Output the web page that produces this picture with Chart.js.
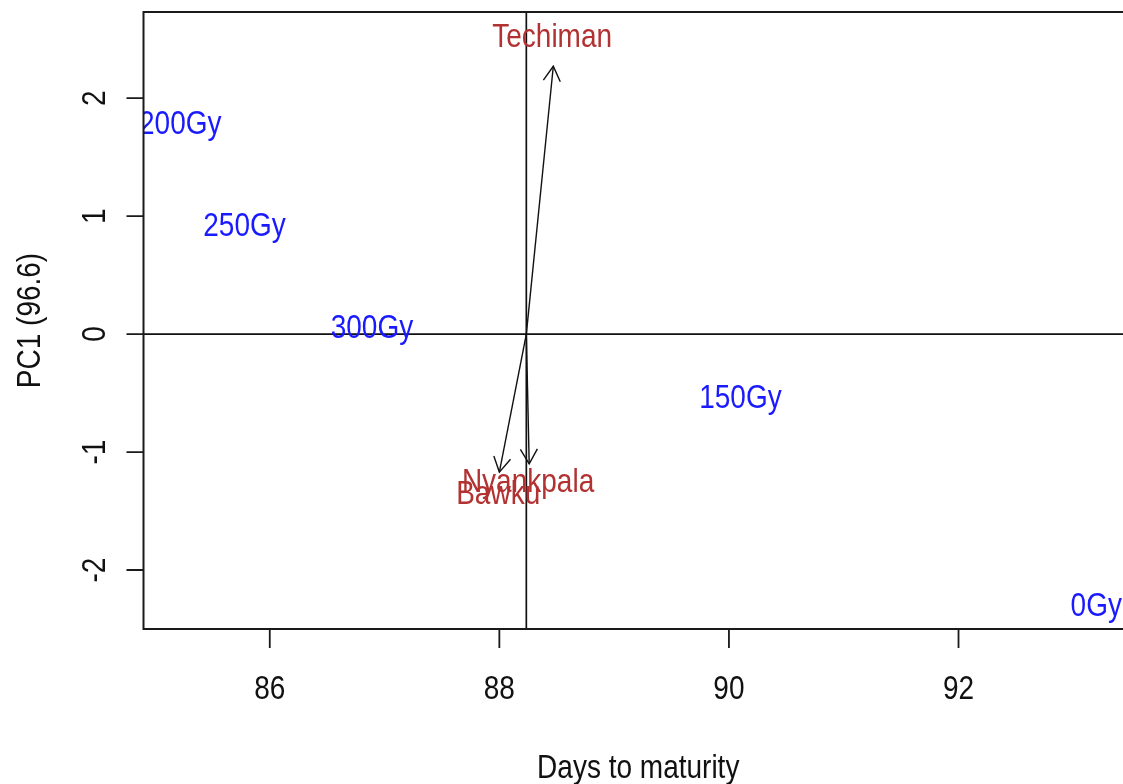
<!DOCTYPE html>
<html>
<head>
<meta charset="utf-8">
<script src="https://cdn.jsdelivr.net/npm/chart.js@4"></script>
<style>
  html, body { margin: 0; padding: 0; background: #fff; overflow: hidden; }
  #wrap { width: 1133px; height: 784px; }
</style>
</head>
<body>
<div id="wrap"><canvas id="biplot"></canvas></div>
<script>
"use strict";

// dosis (etiquetas azules)
const doseLabels = ["200Gy", "250Gy", "300Gy", "150Gy", "0Gy"];
const doseX = [85.22, 85.78, 86.89, 90.10, 93.20];
const doseY = [1.80, 0.93, 0.07, -0.53, -2.29];

// localidades (etiquetas rojas)
const siteLabels = ["Techiman", "Nyankpala", "Bawku"];
const siteX = [88.46, 88.25, 87.99];
const siteY = [2.53, -1.24, -1.34];

// puntas de las flechas
const arrowX = [88.47, 88.26, 88.00];
const arrowY = [2.27, -1.10, -1.17];
const originX = 88.235;
const originY = 0;

const xTicks = [86, 88, 90, 92];
const yTicks = [-2, -1, 0, 1, 2];

const FONT = 'px "Liberation Sans", Arial, sans-serif';
const SIZE = 28;
const STRETCH = 1.18;
const BLUE = "#1a1aff";
const RED = "#b23232";

function drawText(ctx, txt, x, y, color, rot) {
  ctx.save();
  ctx.translate(x, y);
  if (rot) ctx.rotate(rot);
  ctx.scale(1, STRETCH);
  ctx.fillStyle = color;
  ctx.font = SIZE + FONT;
  ctx.textAlign = "center";
  ctx.textBaseline = "alphabetic";
  ctx.fillText(txt, 0, SIZE * 0.358);
  ctx.restore();
}

function arrowHead(ctx, x0, y0, x1, y1) {
  const a = Math.atan2(y1 - y0, x1 - x0);
  const L = 17, w = Math.PI / 6;
  ctx.beginPath();
  ctx.moveTo(x1 - L * Math.cos(a - w), y1 - L * Math.sin(a - w));
  ctx.lineTo(x1, y1);
  ctx.lineTo(x1 - L * Math.cos(a + w), y1 - L * Math.sin(a + w));
  ctx.stroke();
}

// Ejes estilo R: caja, marcas, textos
const rAxes = {
  id: "rAxes",
  beforeDatasetsDraw(chart) {
    const { ctx, chartArea: ca, scales: { x, y } } = chart;
    ctx.save();
    ctx.strokeStyle = "#111";
    ctx.lineWidth = 1.7;
    ctx.beginPath();
    const py0 = y.getPixelForValue(originY);
    const px0 = x.getPixelForValue(originX);
    ctx.moveTo(ca.left, py0); ctx.lineTo(ca.right, py0);
    ctx.moveTo(px0, ca.top); ctx.lineTo(px0, ca.bottom);
    ctx.stroke();
    ctx.restore();
  },
  afterDatasetsDraw(chart) {
    const { ctx, chartArea: ca, scales: { x, y } } = chart;
    ctx.save();
    ctx.strokeStyle = "#111";
    ctx.lineWidth = 1.4;

    // puntas de flecha
    arrowX.forEach((v, i) => {
      arrowHead(ctx, x.getPixelForValue(originX), y.getPixelForValue(originY),
        x.getPixelForValue(v), y.getPixelForValue(arrowY[i]));
    });

    // etiquetas recortadas al área
    ctx.save();
    ctx.beginPath();
    ctx.rect(ca.left, ca.top, ca.right - ca.left, ca.bottom - ca.top);
    ctx.clip();
    doseLabels.forEach((t, i) => {
      drawText(ctx, t, x.getPixelForValue(doseX[i]), y.getPixelForValue(doseY[i]), BLUE);
    });
    siteLabels.forEach((t, i) => {
      drawText(ctx, t, x.getPixelForValue(siteX[i]), y.getPixelForValue(siteY[i]), RED);
    });
    ctx.restore();

    // caja
    ctx.lineWidth = 2;
    ctx.strokeStyle = "#1a1a1a";
    ctx.strokeRect(ca.left, ca.top, ca.right - ca.left, ca.bottom - ca.top);

    // marcas de los ejes
    ctx.lineWidth = 1.8;
    ctx.beginPath();
    xTicks.forEach(v => {
      const px = x.getPixelForValue(v);
      ctx.moveTo(px, ca.bottom); ctx.lineTo(px, ca.bottom + 19);
    });
    yTicks.forEach(v => {
      const py = y.getPixelForValue(v);
      ctx.moveTo(ca.left, py); ctx.lineTo(ca.left - 17, py);
    });
    ctx.stroke();

    xTicks.forEach(v => drawText(ctx, String(v), x.getPixelForValue(v), ca.bottom + 58, "#111"));
    yTicks.forEach(v => drawText(ctx, String(v), ca.left - 50, y.getPixelForValue(v), "#111", -Math.PI / 2));

    drawText(ctx, "Days to maturity", (ca.left + ca.right) / 2, 766, "#111");
    drawText(ctx, "PC1 (96.6)", 28, (ca.top + ca.bottom) / 2, "#111", -Math.PI / 2);
    ctx.restore();
  }
};

const arrowSets = arrowX.map((v, i) => ({
  data: [{ x: originX, y: originY }, { x: v, y: arrowY[i] }],
  showLine: true,
  borderColor: "#111",
  borderWidth: 1.4,
  pointRadius: 0,
  fill: false
}));

new Chart(document.getElementById("biplot"), {
  type: "scatter",
  data: { datasets: arrowSets },
  options: {
    responsive: true,
    maintainAspectRatio: false,
    animation: false,
    layout: { padding: { left: 143.5, top: 12, right: 0, bottom: 155 } },
    plugins: { legend: { display: false }, tooltip: { enabled: false } },
    scales: {
      x: { type: "linear", display: false, min: 84.9, max: 93.52 },
      y: { type: "linear", display: false, min: -2.5, max: 2.73 }
    }
  },
  plugins: [rAxes]
});
</script>
</body>
</html>
